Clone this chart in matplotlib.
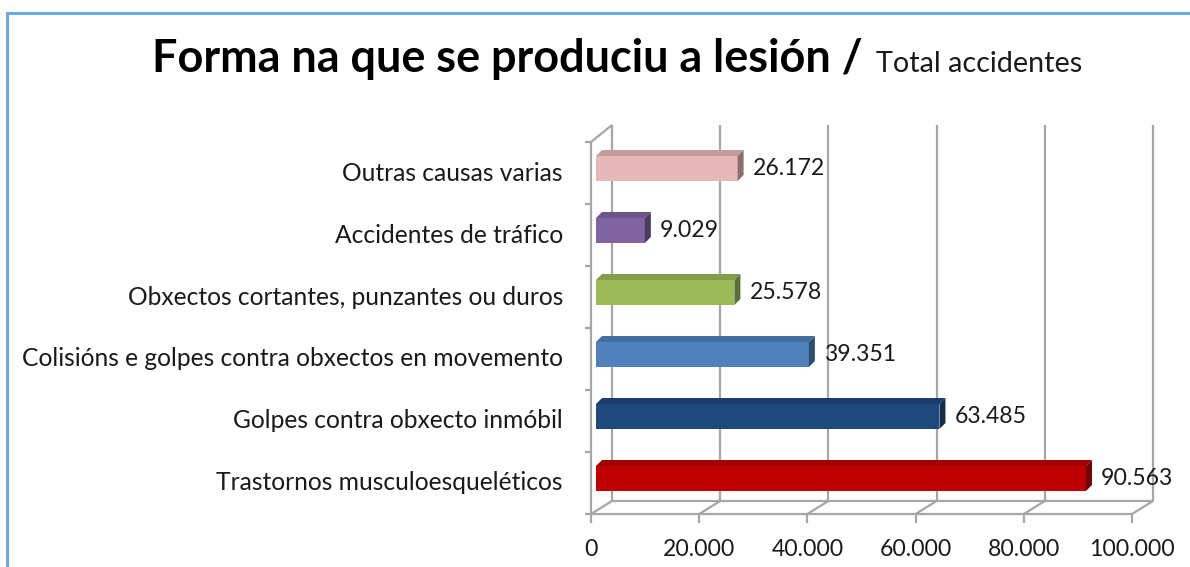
import matplotlib
matplotlib.use("Agg")
import matplotlib.pyplot as plt
from matplotlib.patches import Polygon
from matplotlib.lines import Line2D
import numpy as np

categories = ["Trastornos musculoesqueléticos",
              "Golpes contra obxecto inmóbil",
              "Colisións e golpes contra obxectos en movemento",
              "Obxectos cortantes, punzantes ou duros",
              "Accidentes de tráfico",
              "Outras causas varias"]
values = [90563, 63485, 39351, 25578, 9029, 26172]
colors = ["#c00000", "#1f497d", "#4f81bd", "#9bbb59", "#8064a2", "#e6b9b8"]
xticks = [0, 20000, 40000, 60000, 80000, 100000]
xtick_labels = ["0", "20.000", "40.000", "60.000", "80.000", "100.000"]
title_main = "Forma na que se produciu a lesión /"
title_sub = "Total accidentes"

FONT = "Lato"
W, H = 1190, 567
fig = plt.figure(figsize=(W / 100, H / 100), dpi=100)
fig.patch.set_facecolor("white")

# axes: front plane x=0 at px 591, 100000 at px 1132; y from 514 (bottom) to 142 (top)
x0p, x1p = 591, 1132
ybp, ytp = 514, 142
ax = fig.add_axes([x0p / W, (H - ybp) / H, (x1p - x0p) / W, (ybp - ytp) / H])
ax.set_xlim(0, 100000)
ax.set_ylim(-0.5, 5.5)
ax.axis("off")

PX = 100000 / (x1p - x0p)   # data units per pixel (x)
PY = 6.0 / (ybp - ytp)       # data units per pixel (y)

grid_c = "#a6a6a6"
lw = 1.6
dxw = 21 * PX
dy_bot = 13 * PY
dy_top = 17 * PY

def line(xs, ys, **kw):
    ax.add_line(Line2D(xs, ys, color=grid_c, lw=lw, clip_on=False,
                       solid_capstyle="butt", **kw))

# back wall gridlines + floor diagonals
for v in xticks:
    line([v + dxw, v + dxw], [-0.5 + dy_bot, 5.5 + dy_top])
    line([v, v + dxw], [-0.5, -0.5 + dy_bot])
    line([v, v], [-0.5, -0.5 - 9 * PY])
# floor back edge
line([dxw, 100000 + dxw], [-0.5 + dy_bot, -0.5 + dy_bot])
# front floor edge
line([0, 100000], [-0.5, -0.5])
# front left axis
line([0, 0], [-0.5, 5.5])
line([0, dxw], [5.5, 5.5 + dy_top])
for b in np.arange(-0.5, 6.0, 1.0):
    line([0, -6 * PX], [b, b])

# bars with 3D faces
ypos = np.arange(len(categories))
bar_h = 25 * PY
bar_dy = 4.5 * PY
bar_off = 5 * PX
d_x = 6 * PX
d_y = 6 * PY

def shade(c, f):
    rgb = np.array(matplotlib.colors.to_rgb(c))
    return tuple(np.clip(rgb * f, 0, 1))

bars = ax.barh(ypos + bar_dy, values, left=bar_off, height=bar_h,
               color=colors, edgecolor="none", zorder=3)
for y, v, c in zip(ypos, values, colors):
    xl = bar_off
    xr = bar_off + v
    yb = y + bar_dy - bar_h / 2
    yt = y + bar_dy + bar_h / 2
    top = Polygon([(xl, yt), (xr, yt), (xr + d_x, yt + d_y), (xl + d_x, yt + d_y)],
                  closed=True, facecolor=shade(c, 0.85), edgecolor="none", zorder=3)
    side = Polygon([(xr, yb), (xr, yt), (xr + d_x, yt + d_y), (xr + d_x, yb + d_y)],
                   closed=True, facecolor=shade(c, 0.6), edgecolor="none", zorder=3)
    ax.add_patch(top)
    ax.add_patch(side)

fig.canvas.draw()
renderer = fig.canvas.get_renderer()

def fit(t, target):
    w = t.get_window_extent(renderer).width
    t.set_fontsize(t.get_fontsize() * target / w)
    return t.get_fontsize()

# value labels
probe = fig.text(0, 0, "20.000", fontsize=16, family=FONT)
num_fs = fit(probe, 72)
probe.remove()

for y, v in zip(ypos, values):
    ax.text(bar_off + v + 15 * PX, y + bar_dy, f"{v:,}".replace(",", "."),
            ha="left", va="center", fontsize=num_fs, family=FONT,
            color="#1a1a1a", zorder=4)

# x tick labels
for v, lab in zip(xticks, xtick_labels):
    ax.text(v, -0.5 - 35.5 * PY, lab, ha="center", va="center",
            fontsize=num_fs, family=FONT, color="#1a1a1a", clip_on=False)

# category labels
probe = fig.text(0, 0, categories[2], fontsize=14, family=FONT)
cat_fs = fit(probe, 543)
probe.remove()
for y, lab in zip(ypos, categories):
    ax.text(-28 * PX, y, lab, ha="right", va="center", fontsize=cat_fs,
            family=FONT, color="#1a1a1a", clip_on=False)

# title
t1 = fig.text(152 / W, (H - 72) / H, title_main, ha="left", va="baseline",
              fontsize=30, family=FONT, fontweight="bold", color="black")
fit(t1, 710)
t2 = fig.text(876 / W, (H - 72) / H, title_sub, ha="left", va="baseline",
              fontsize=16, family=FONT, color="#1a1a1a")
fit(t2, 207)

# outer border (top and left)
border_c = "#6fa8e6"
fig.add_artist(Line2D([7 / W, 1.0], [(H - 12.5) / H, (H - 12.5) / H],
                      color=border_c, lw=2.2, transform=fig.transFigure))
fig.add_artist(Line2D([7 / W, 7 / W], [0, (H - 12.5) / H],
                      color=border_c, lw=2.2, transform=fig.transFigure))

fig.savefig("out.png", dpi=100, facecolor="white")
